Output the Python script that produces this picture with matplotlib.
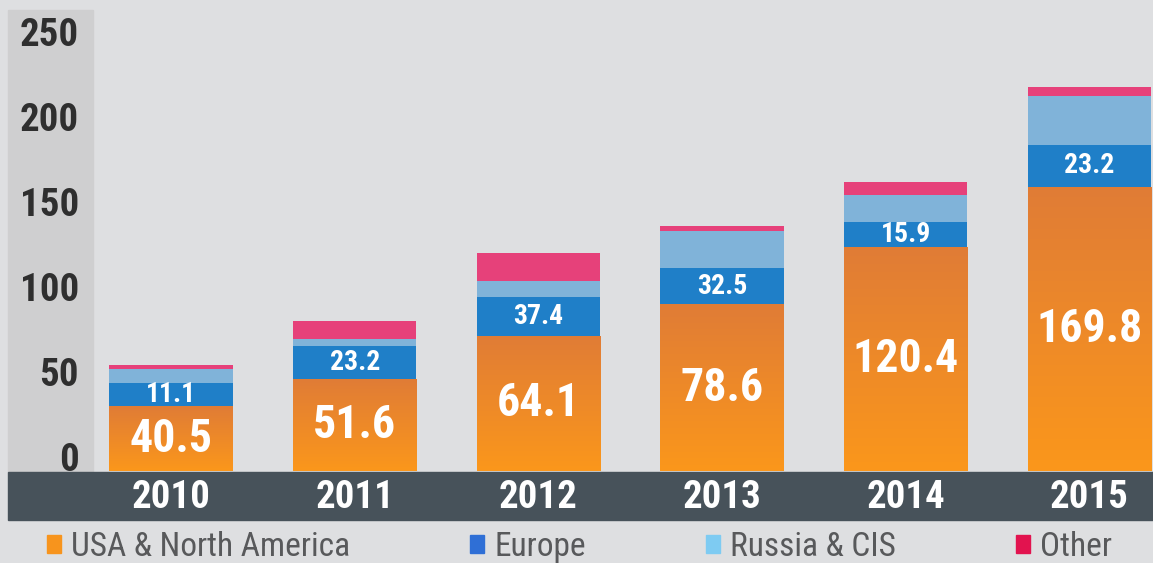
import numpy as np
import matplotlib
matplotlib.use('Agg')
import matplotlib.pyplot as plt
from matplotlib.patches import Rectangle, Patch
from matplotlib.colors import LinearSegmentedColormap

years = ['2010', '2011', '2012', '2013', '2014', '2015']
# segment heights as drawn in the picture
usa = [38.2, 53.9, 79.4, 98.1, 131.6, 167.2]
europe = [13.7, 19.8, 23.1, 21.1, 14.7, 24.4]
russia = [8.1, 3.9, 8.9, 22.1, 16.1, 28.6]
other = [2.4, 10.6, 16.7, 3.0, 7.4, 5.5]
# numbers printed on the bars
usa_labels = ['40.5', '51.6', '64.1', '78.6', '120.4', '169.8']
europe_labels = ['11.1', '23.2', '37.4', '32.5', '15.9', '23.2']
y_ticks = [0, 50, 100, 150, 200, 250]
series_names = ['USA & North America', 'Europe', 'Russia & CIS', 'Other']

narrow = ['Liberation Sans Narrow', 'Roboto Condensed', 'Roboto', 'DejaVu Sans']
plt.rcParams['font.family'] = narrow

fig = plt.figure(figsize=(11.53, 5.63), dpi=100)
fig.patch.set_facecolor('#dedfe1')

W, H = 1153.0, 563.0
# grey band behind y labels and dark band behind years
fig.patches.append(Rectangle((8 / W, 1 - 472 / H), 85 / W, 462 / H,
                             transform=fig.transFigure, color='#cfcfd0', zorder=-2))
fig.patches.append(Rectangle((8 / W, 1 - 520 / H), 1 - 8 / W, 48 / H,
                             transform=fig.transFigure, color='#47525a', zorder=-2))

ax = fig.add_axes([93 / W, 1 - 471 / H, 1060 / W, 461 / H])
ax.set_facecolor('none')

x = np.arange(len(years))
bw = 0.672
usa_a = np.array(usa)
eu_a = np.array(europe)
ru_a = np.array(russia)
ot_a = np.array(other)

b_usa = ax.bar(x, usa_a, bw, color='#ec8a2a', zorder=2)
b_eu = ax.bar(x, eu_a, bw, bottom=usa_a, color='#1f7fc8', zorder=2)
b_ru = ax.bar(x, ru_a, bw, bottom=usa_a + eu_a, color='#80b3d9', zorder=2)
b_ot = ax.bar(x, ot_a, bw, bottom=usa_a + eu_a + ru_a, color='#e6417a', zorder=2)

# orange gradient, darker at the top
grad = np.linspace(0, 1, 256).reshape(-1, 1)
cmap = LinearSegmentedColormap.from_list('org', ['#fb971b', '#e07c36'])
for bar in b_usa:
    x0, y0 = bar.get_xy()
    im = ax.imshow(grad, extent=[x0, x0 + bar.get_width(), y0, y0 + bar.get_height()],
                   origin='lower', cmap=cmap, aspect='auto', zorder=2.5)
    im.set_clip_path(bar)

for i in range(len(years)):
    ax.text(x[i], usa_a[i] / 2, usa_labels[i], ha='center', va='center',
            color='white', fontsize=33, fontweight='bold', zorder=3)
    ax.text(x[i], usa_a[i] + eu_a[i] / 2, europe_labels[i], ha='center', va='center',
            color='white', fontsize=20, fontweight='bold', zorder=3)

ax.set_xlim(-0.425, 5.346)
ax.set_ylim(0, 271)
ax.set_xticks(x)
ax.set_xticklabels(years, color='white', fontsize=28, fontweight='bold')
ax.set_yticks(y_ticks)
ax.set_yticklabels([str(t) for t in y_ticks], color='#2f2f2f', fontsize=28, fontweight='bold')
for lbl in ax.get_yticklabels():
    lbl.set_verticalalignment('baseline')
ax.tick_params(axis='y', length=0, pad=10)
ax.tick_params(axis='x', length=0, pad=6)
for s in ax.spines.values():
    s.set_visible(False)

leg_colors = ['#f7941d', '#2f6fd6', '#7ecbf2', '#e2134f']
handles = [Patch(color=c) for c in leg_colors]
fig.legend(handles, series_names, loc='center left', bbox_to_anchor=(47 / W, 1 - 547 / H),
           ncol=4, frameon=False, fontsize=24, labelcolor='#58595b',
           handlelength=0.42, handleheight=0.42, handletextpad=0.3,
           columnspacing=3.6, borderpad=0, borderaxespad=0)

fig.savefig('out.png', dpi=100, facecolor=fig.get_facecolor())
